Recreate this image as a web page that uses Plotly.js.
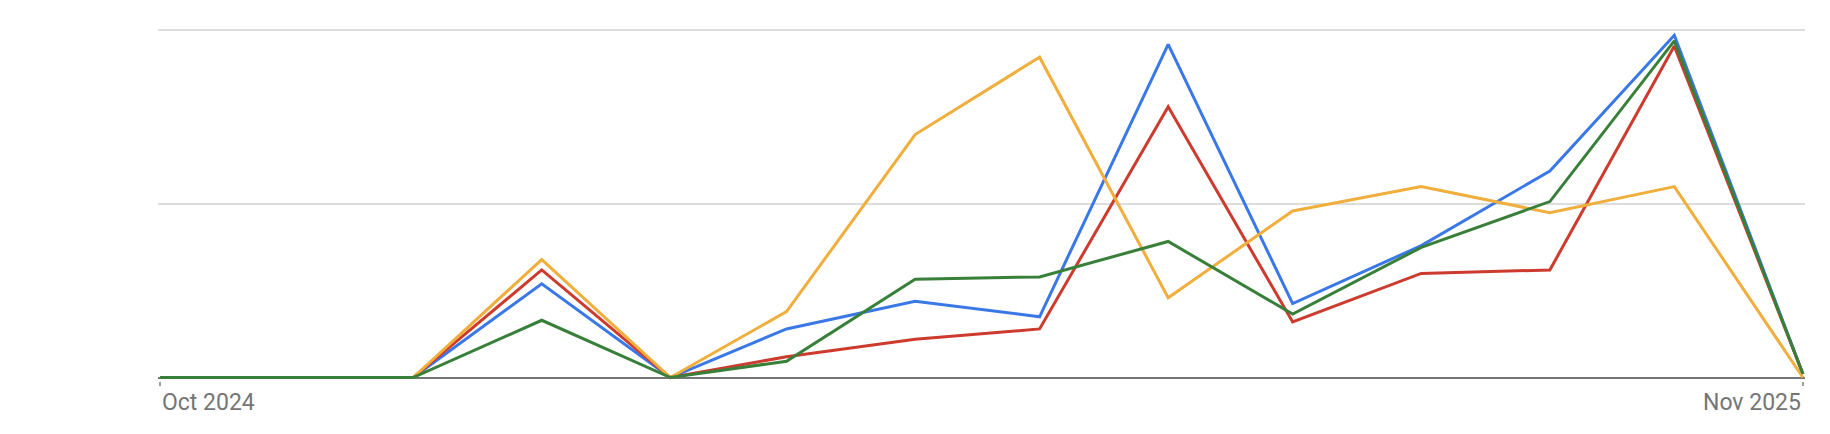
<!DOCTYPE html>
<html>
<head>
<meta charset="utf-8">
<script src="https://cdn.plot.ly/plotly-3.0.1.min.js"></script>
<style>
  html, body { margin: 0; padding: 0; background: #ffffff; }
  #tgtDraw { width: 1830px; height: 434px; }
</style>
</head>
<body>
<div id="tgtDraw"></div>
<script>
// monthly points, Oct 2024 .. Nov 2025
var months = ["2024-10-01", "2024-11-01", "2024-12-01", "2025-01-01", "2025-02-01", "2025-03-01", "2025-04-01",
              "2025-05-01", "2025-06-01", "2025-07-01", "2025-08-01", "2025-09-01", "2025-10-01", "2025-11-01"];

// interest values (0-100)
var blueVals   = [0, 0, 0, 27, 0, 14, 22, 17.5, 96, 21.3, 38, 59.5, 98.6, 1];
var redVals    = [0, 0, 0, 31, 0, 6, 11, 14, 78, 16, 30, 31, 95.5, 1];
var orangeVals = [0, 0, 0, 34, 0, 19, 70, 92.3, 23, 48, 55, 47.5, 55, 0];
var greenVals  = [0, 0, 0, 16.5, 0, 4.7, 28.3, 29, 39.2, 18.3, 37.5, 50.7, 97, 1];

var tickDates = ["2024-10-01", "2025-11-01"];
var tickLabels = ["Oct 2024", "Nov 2025"];

function make_trace(vals, color)
{
	return {
		x: months,
		y: vals,
		type: 'scatter',
		mode: 'lines',
		line: { color: color, width: 3 },
		hoverinfo: 'skip'
	};
}

var data = [
	make_trace(blueVals, "#3b78e7"),
	make_trace(redVals, "#cc3b2e"),
	make_trace(orangeVals, "#f0ae3c"),
	make_trace(greenVals, "#38803a")
];

var layout = {
	width: 1830,
	height: 434,
	margin: { l: 158, r: 25, t: 26.5, b: 52.5 },
	paper_bgcolor: "#ffffff",
	plot_bgcolor: "#ffffff",
	showlegend: false,
	font: { family: "Roboto, Arial, sans-serif", size: 23, color: "#757575" },
	xaxis: {
		type: 'date',
		range: ["2024-09-30 12:00", "2025-11-01 12:00"],
		showgrid: false,
		zeroline: false,
		showline: false,
		tickmode: 'array',
		tickvals: tickDates,
		ticks: 'outside',
		ticklen: 4,
		tickwidth: 1.5,
		tickcolor: "#9e9e9e",
		showticklabels: false
	},
	yaxis: {
		range: [-1, 101],
		tickmode: 'array',
		tickvals: [0, 50, 100],
		showticklabels: false,
		showgrid: true,
		gridcolor: "#dddddd",
		gridwidth: 2,
		zeroline: true,
		zerolinecolor: "#757575",
		zerolinewidth: 2,
		ticks: ''
	},
	// the two date labels sit flush with the end ticks
	annotations: [
		{ x: tickDates[0], y: -0.062, xref: 'x', yref: 'paper', text: tickLabels[0], showarrow: false,
		  xanchor: 'left', yanchor: 'middle', font: { size: 23, color: "#757575" } },
		{ x: tickDates[1], y: -0.062, xref: 'x', yref: 'paper', text: tickLabels[1], showarrow: false,
		  xanchor: 'right', yanchor: 'middle', font: { size: 23, color: "#757575" } }
	]
};

Plotly.newPlot('tgtDraw', data, layout, { displayModeBar: false, staticPlot: true });
</script>
</body>
</html>
